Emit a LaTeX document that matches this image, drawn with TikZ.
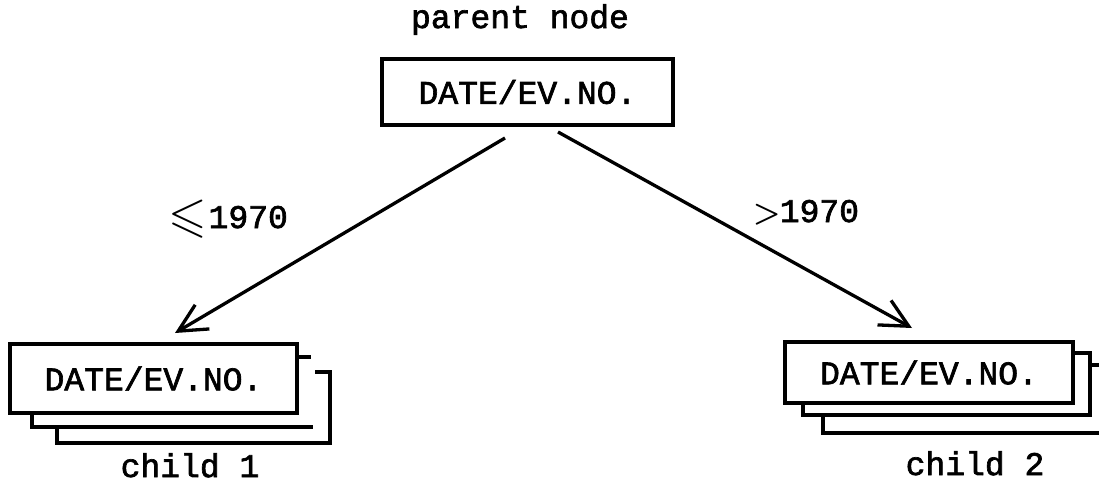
\documentclass[tikz,border=0pt]{standalone}
\usepackage{amsmath}
\usepackage{amssymb}
\usepackage{fontspec}
\usetikzlibrary{arrows.meta}
% typewriter face for all labels, slightly emboldened
\newfontfamily\twfont{Liberation Mono}[FakeBold=2]
\newcommand{\typeface}{\fontsize{33}{38}\selectfont\twfont}
\begin{document}
\begin{tikzpicture}[x=1pt,y=-1pt,
  line width=3.4pt, line join=miter,
  txt/.style={font=\typeface, inner sep=0pt},
  recbox/.style={draw, rectangle, inner sep=0pt, font=\typeface},
  backbox/.style={line width=3.1pt},
  link/.style={line width=3.3pt,
    -{Straight Barb[length=28pt,width=28pt,line width=3.3pt]}}]
\useasboundingbox (0,0) rectangle (1099,491);

% parent record
\node[txt, anchor=base] (ptitle) at (520,28) {parent node};
\node[recbox, minimum width=291pt, minimum height=66pt] (parent) at (527.5,92) {DATE/EV.NO.};

% child 1: stacked records
\draw[backbox] (57,427) -- (57,443) -- (330,443) -- (330,372) -- (315,372);
\draw[backbox] (32,412) -- (32,427) -- (313,427);
\draw[backbox] (297,357) -- (311,357);
\node[recbox, fill=white, minimum width=287pt, minimum height=69pt] (child1) at (153.5,378.5) {DATE/EV.NO.};
\node[txt, anchor=base] (c1title) at (190,477) {child 1};

% child 2: stacked records
\draw[backbox] (823,414) -- (823,433) -- (1099,433);
\draw[backbox] (1090,365) -- (1099,365);
\draw[backbox] (803,402) -- (803,415) -- (1090,415) -- (1090,353) -- (1073,353);
\node[recbox, fill=white, minimum width=288pt, minimum height=61pt] (child2) at (929,372.5) {DATE/EV.NO.};
\node[txt, anchor=base] (c2title) at (975,475) {child 2};

% branch connectors
\coordinate (pl) at (505,138);
\coordinate (pr) at (558,132);
\coordinate (c1in) at (175,333);
\coordinate (c2in) at (912,328);
\draw[link] (pl) -- (c1in);
\draw[link] (pr) -- (c2in);

% branch conditions
\node[txt, anchor=base] (lecond) at (228,228) {\raisebox{-3pt}{\scalebox{1.5}{$\boldsymbol{\leqslant}$}}\kern2pt1970};
\node[txt, anchor=base] (gtcond) at (806,222) {\scalebox{1.25}{$\boldsymbol{>}$}\kern-1pt1970};
\end{tikzpicture}
\end{document}
